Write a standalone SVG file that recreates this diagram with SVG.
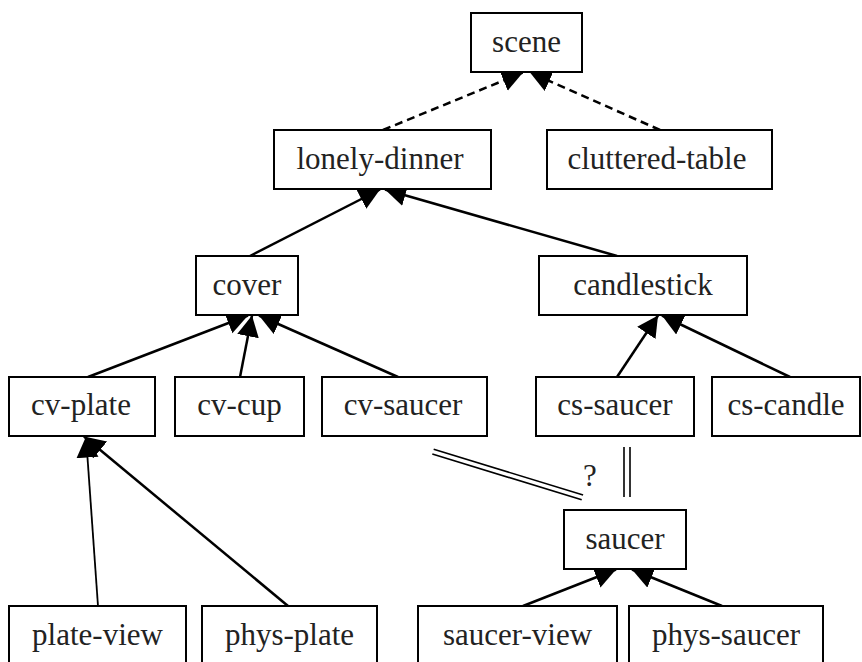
<svg xmlns="http://www.w3.org/2000/svg" width="862" height="662" viewBox="0 0 862 662">
<style>
  .box{fill:#fff;stroke:#000;stroke-width:2}
  .lbl{font-family:"Liberation Serif","Times New Roman",serif;font-size:31px;fill:#222;text-anchor:middle}
  .edge{stroke:#000;stroke-width:2.5;fill:none;marker-end:url(#ah)}
  .dash{stroke-dasharray:8,5}
  .dbl{stroke:#000;stroke-width:1.6;fill:none}
</style>
<defs>
  <marker id="ah" markerUnits="userSpaceOnUse" markerWidth="24" markerHeight="24" refX="21" refY="11" orient="auto">
    <path d="M0,0 L21,11 L0,22 z" fill="#000"/>
  </marker>
</defs>
<rect width="862" height="662" fill="#fff"/>
<g id="connectors">
  <line class="edge dash" x1="383" y1="130" x2="523" y2="72.5"/>
  <line class="edge dash" x1="660" y1="130" x2="530" y2="72.5"/>
  <line class="edge" x1="250" y1="256" x2="380" y2="189.5"/>
  <line class="edge" x1="617" y1="256" x2="385" y2="189.5"/>
  <line class="edge" x1="88" y1="377" x2="248" y2="315.5"/>
  <line class="edge" x1="240" y1="377" x2="252" y2="315.5"/>
  <line class="edge" x1="398" y1="377" x2="259" y2="315.5"/>
  <line class="edge" x1="617" y1="377" x2="658" y2="315.5"/>
  <line class="edge" x1="790" y1="377" x2="662" y2="315.5"/>
  <line class="edge" style="stroke-width:1.8" x1="98" y1="606" x2="86" y2="436.5"/>
  <line class="edge" x1="288" y1="606" x2="84" y2="436.5"/>
  <line class="edge" x1="523" y1="606" x2="616" y2="569.5"/>
  <line class="edge" x1="722" y1="606" x2="632" y2="569.5"/>
  <line class="dbl" x1="433.7" y1="449.3" x2="583.1" y2="494.9"/>
  <line class="dbl" x1="432.3" y1="454.1" x2="581.7" y2="499.7"/>
  <line class="dbl" x1="624" y1="447" x2="624" y2="497"/>
  <line class="dbl" x1="630" y1="447" x2="630" y2="497"/>
  <text class="lbl" x="590" y="486">?</text>
</g>
<g id="scene"><rect class="box" x="471" y="13" width="111" height="59"/><text class="lbl" x="526.5" y="52">scene</text></g>
<g id="lonely-dinner"><rect class="box" x="274" y="130" width="217" height="59"/><text class="lbl" x="380" y="169">lonely-dinner</text></g>
<g id="cluttered-table"><rect class="box" x="547" y="130" width="225" height="59"/><text class="lbl" x="657" y="169">cluttered-table</text></g>
<g id="cover"><rect class="box" x="196" y="256" width="102" height="59"/><text class="lbl" x="247" y="295">cover</text></g>
<g id="candlestick"><rect class="box" x="539" y="256" width="208" height="59"/><text class="lbl" x="643" y="295">candlestick</text></g>
<g id="cv-plate"><rect class="box" x="9" y="377" width="146" height="59"/><text class="lbl" x="81" y="415">cv-plate</text></g>
<g id="cv-cup"><rect class="box" x="175" y="377" width="129" height="59"/><text class="lbl" x="239.5" y="415">cv-cup</text></g>
<g id="cv-saucer"><rect class="box" x="322" y="377" width="165" height="59"/><text class="lbl" x="403" y="415">cv-saucer</text></g>
<g id="cs-saucer"><rect class="box" x="536" y="377" width="158" height="59"/><text class="lbl" x="615" y="415">cs-saucer</text></g>
<g id="cs-candle"><rect class="box" x="712" y="377" width="148" height="59"/><text class="lbl" x="786" y="415">cs-candle</text></g>
<g id="saucer"><rect class="box" x="564" y="510" width="122" height="59"/><text class="lbl" x="625" y="549">saucer</text></g>
<g id="plate-view"><rect class="box" x="9" y="606" width="177" height="59"/><text class="lbl" x="97.5" y="645">plate-view</text></g>
<g id="phys-plate"><rect class="box" x="202" y="606" width="175" height="59"/><text class="lbl" x="289.5" y="645">phys-plate</text></g>
<g id="saucer-view"><rect class="box" x="418" y="606" width="199" height="59"/><text class="lbl" x="517.5" y="645">saucer-view</text></g>
<g id="phys-saucer"><rect class="box" x="629" y="606" width="194" height="59"/><text class="lbl" x="726" y="645">phys-saucer</text></g>
</svg>
